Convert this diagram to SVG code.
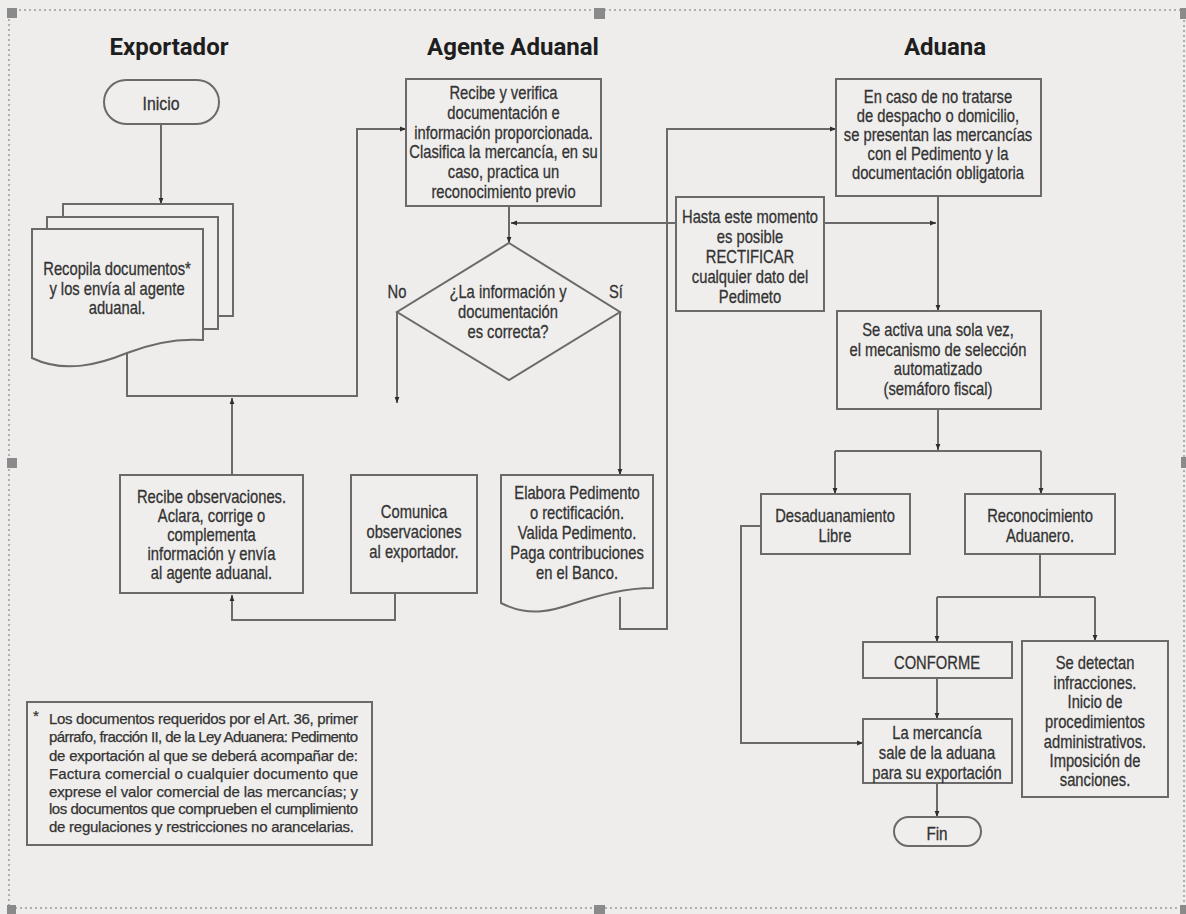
<svg xmlns="http://www.w3.org/2000/svg" width="1186" height="914" viewBox="0 0 1186 914">
<defs>
<marker id="ah" viewBox="0 0 10 10" refX="10" refY="5" markerWidth="6" markerHeight="6" orient="auto" markerUnits="userSpaceOnUse"><path d="M0,1 L10,5 L0,9 Z" fill="#2e2e2e"/></marker>
<style>
.bg{fill:#eeedeb}
.frame{fill:none;stroke:#9a9a9a;stroke-width:1.5;stroke-dasharray:2 3}
.h{fill:#8a8a8a}
.n{fill:#efeeec;stroke:#6a6a6a;stroke-width:2}
.c{fill:none;stroke:#6a6a6a;stroke-width:2}
.ca{fill:none;stroke:#6a6a6a;stroke-width:2;marker-end:url(#ah)}
.t{font-family:"Liberation Sans",Arial,sans-serif;font-size:18px;fill:#333;stroke:#333;stroke-width:0.3;text-anchor:middle}
.ti{font-family:Roboto,"Liberation Sans",sans-serif;font-weight:700;font-size:24px;fill:#1e1e1e;text-anchor:middle}
.fn{font-family:"Liberation Sans",Arial,sans-serif;font-size:15px;fill:#333;stroke:#333;stroke-width:0.25}
</style>
</defs>
<rect class="bg" x="0" y="0" width="1186" height="914"/>
<rect class="frame" x="9" y="10" width="1175" height="898"/>
<g id="handles">
<rect class="h" x="7" y="8" width="10" height="10"/>
<rect class="h" x="594" y="8" width="11" height="11"/>
<rect class="h" x="1180" y="8" width="6" height="11"/>
<rect class="h" x="7" y="458" width="10" height="10"/>
<rect class="h" x="1181" y="457" width="5" height="11"/>
<rect class="h" x="7" y="905" width="9" height="9"/>
<rect class="h" x="594" y="905" width="11" height="9"/>
<rect class="h" x="1180" y="905" width="6" height="9"/>
</g>
<g id="titles">
<text class="ti" x="169" y="55">Exportador</text>
<text class="ti" x="513" y="55">Agente Aduanal</text>
<text class="ti" x="945" y="55">Aduana</text>
</g>
<g id="connectors">
<path class="ca" d="M161,124 V204"/>
<path class="ca" d="M127,353 V396 H357 V129 H406"/>
<path class="ca" d="M232,475 V398"/>
<path class="ca" d="M509,206 V243"/>
<path class="ca" d="M676,223 H511"/>
<path class="ca" d="M824,223 H936"/>
<path class="ca" d="M397,312 V403"/>
<path class="ca" d="M620,312 V475"/>
<path class="ca" d="M395,593 V620 H232 V595"/>
<path class="ca" d="M620,597 V629 H667 V129 H836"/>
<path class="ca" d="M938,196 V311"/>
<path class="ca" d="M938,409 V450"/>
<path class="c" d="M835,451 H1041"/>
<path class="ca" d="M835,451 V494"/>
<path class="ca" d="M1041,451 V494"/>
<path class="c" d="M1040,554 V597"/>
<path class="c" d="M937,597 H1095"/>
<path class="ca" d="M937,597 V642"/>
<path class="ca" d="M1095,597 V641"/>
<path class="ca" d="M937,678 V719"/>
<path class="ca" d="M761,526 H741 V743 H863"/>
<path class="ca" d="M937,783 V817"/>
</g>
<g id="inicio">
<rect class="n" x="104" y="80" width="115" height="44" rx="22"/>
<text class="t" font-size="21" transform="translate(161 0) scale(0.88 1)"><tspan x="0" y="110">Inicio</tspan></text>
</g>
<g id="recopila">
<rect class="n" x="63" y="204" width="170" height="112"/>
<rect class="n" x="47" y="217" width="171" height="112"/>
<path class="n" d="M32,229 H203 V340 C175,338 150,344 127,353 C100,364 65,374 32,358 Z"/>
<text class="t" transform="translate(117 0) scale(0.82 1)"><tspan x="0" y="275">Recopila documentos*</tspan><tspan x="0" y="295">y los envía al agente</tspan><tspan x="0" y="314">aduanal.</tspan></text>
</g>
<g id="recibe-verifica">
<rect class="n" x="406" y="79" width="195" height="127"/>
<text class="t" transform="translate(503.5 0) scale(0.82 1)"><tspan x="0" y="99">Recibe y verifica</tspan><tspan x="0" y="119">documentación e</tspan><tspan x="0" y="139">información proporcionada.</tspan><tspan x="0" y="158">Clasifica la mercancía, en su</tspan><tspan x="0" y="178">caso, practica un</tspan><tspan x="0" y="198">reconocimiento previo</tspan></text>
</g>
<g id="decision">
<path class="n" d="M509,243 L620,312 L509,380 L397,312 Z"/>
<text class="t" transform="translate(508 0) scale(0.82 1)"><tspan x="0" y="298">¿La información y</tspan><tspan x="0" y="318">documentación</tspan><tspan x="0" y="338">es correcta?</tspan></text>
<text class="t" transform="translate(397 0) scale(0.82 1)"><tspan x="0" y="298">No</tspan></text>
<text class="t" transform="translate(616 0) scale(0.82 1)"><tspan x="0" y="298">Sí</tspan></text>
</g>
<g id="hasta">
<rect class="n" x="676" y="197" width="148" height="114"/>
<text class="t" transform="translate(750 0) scale(0.82 1)"><tspan x="0" y="223">Hasta este momento</tspan><tspan x="0" y="243">es posible</tspan><tspan x="0" y="263">RECTIFICAR</tspan><tspan x="0" y="283">cualquier dato del</tspan><tspan x="0" y="303">Pedimeto</tspan></text>
</g>
<g id="presentan">
<rect class="n" x="836" y="79" width="205" height="117"/>
<text class="t" transform="translate(938 0) scale(0.82 1)"><tspan x="0" y="103">En caso de no tratarse</tspan><tspan x="0" y="122">de despacho o domicilio,</tspan><tspan x="0" y="141">se presentan las mercancías</tspan><tspan x="0" y="160">con el Pedimento y la</tspan><tspan x="0" y="179">documentación obligatoria</tspan></text>
</g>
<g id="semaforo">
<rect class="n" x="837" y="311" width="204" height="98"/>
<text class="t" transform="translate(938 0) scale(0.82 1)"><tspan x="0" y="336">Se activa una sola vez,</tspan><tspan x="0" y="356">el mecanismo de selección</tspan><tspan x="0" y="375">automatizado</tspan><tspan x="0" y="395">(semáforo fiscal)</tspan></text>
</g>
<g id="desaduanamiento">
<rect class="n" x="761" y="494" width="149" height="60"/>
<text class="t" transform="translate(835 0) scale(0.82 1)"><tspan x="0" y="522">Desaduanamiento</tspan><tspan x="0" y="542">Libre</tspan></text>
</g>
<g id="reconocimiento">
<rect class="n" x="965" y="494" width="150" height="60"/>
<text class="t" transform="translate(1040 0) scale(0.82 1)"><tspan x="0" y="522">Reconocimiento</tspan><tspan x="0" y="542">Aduanero.</tspan></text>
</g>
<g id="conforme">
<rect class="n" x="863" y="642" width="149" height="36"/>
<text class="t" transform="translate(937 0) scale(0.82 1)"><tspan x="0" y="669">CONFORME</tspan></text>
</g>
<g id="infracciones">
<rect class="n" x="1022" y="641" width="146" height="156"/>
<text class="t" transform="translate(1095 0) scale(0.82 1)"><tspan x="0" y="669">Se detectan</tspan><tspan x="0" y="689">infracciones.</tspan><tspan x="0" y="708">Inicio de</tspan><tspan x="0" y="728">procedimientos</tspan><tspan x="0" y="748">administrativos.</tspan><tspan x="0" y="767">Imposición de</tspan><tspan x="0" y="786">sanciones.</tspan></text>
</g>
<g id="sale">
<rect class="n" x="863" y="719" width="149" height="64"/>
<text class="t" transform="translate(937 0) scale(0.82 1)"><tspan x="0" y="739">La mercancía</tspan><tspan x="0" y="759">sale de la aduana</tspan><tspan x="0" y="779">para su exportación</tspan></text>
</g>
<g id="fin">
<rect class="n" x="894" y="817" width="87" height="29" rx="14.5"/>
<text class="t" font-size="22" transform="translate(937 0) scale(0.85 1)"><tspan x="0" y="840">Fin</tspan></text>
</g>
<g id="recibe-observaciones">
<rect class="n" x="120" y="475" width="183" height="118"/>
<text class="t" transform="translate(211.5 0) scale(0.82 1)"><tspan x="0" y="503">Recibe observaciones.</tspan><tspan x="0" y="522">Aclara, corrige o</tspan><tspan x="0" y="541">complementa</tspan><tspan x="0" y="560">información y envía</tspan><tspan x="0" y="579">al agente aduanal.</tspan></text>
</g>
<g id="comunica">
<rect class="n" x="351" y="475" width="126" height="118"/>
<text class="t" transform="translate(414 0) scale(0.82 1)"><tspan x="0" y="518">Comunica</tspan><tspan x="0" y="538">observaciones</tspan><tspan x="0" y="558">al exportador.</tspan></text>
</g>
<g id="elabora">
<path class="n" d="M501,475 H653 V588 C625,588 600,595 575,603 C555,610 530,618 501,603 Z"/>
<text class="t" transform="translate(577 0) scale(0.82 1)"><tspan x="0" y="499">Elabora Pedimento</tspan><tspan x="0" y="519">o rectificación.</tspan><tspan x="0" y="539">Valida Pedimento.</tspan><tspan x="0" y="559">Paga contribuciones</tspan><tspan x="0" y="579">en el Banco.</tspan></text>
</g>
<g id="footnote">
<rect class="n" x="27" y="702" width="345" height="143"/>
<text class="fn" x="33" y="721">*</text>
<text class="fn" lengthAdjust="spacingAndGlyphs"><tspan x="49" y="724" textLength="309">Los documentos requeridos por el Art. 36, primer</tspan><tspan x="49" y="742" textLength="309">párrafo, fracción II, de la Ley Aduanera: Pedimento</tspan><tspan x="49" y="761" textLength="309">de exportación al que se deberá acompañar de:</tspan><tspan x="49" y="779" textLength="309">Factura comercial o cualquier documento que</tspan><tspan x="49" y="797" textLength="309">exprese el valor  comercial de las mercancías; y</tspan><tspan x="49" y="814" textLength="309">los documentos que comprueben el cumplimiento</tspan><tspan x="49" y="832" textLength="305">de regulaciones y restricciones no arancelarias.</tspan></text>
</g>
</svg>
